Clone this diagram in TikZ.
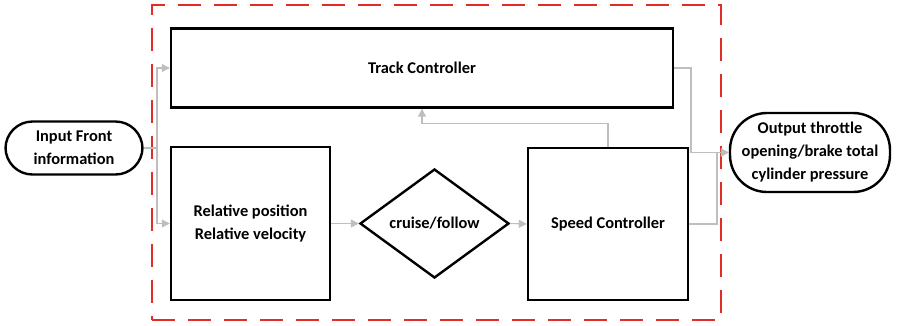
\documentclass[tikz,border=0pt]{standalone}
\usepackage{fontspec}
\setmainfont{Carlito}
\usetikzlibrary{arrows.meta,shapes.geometric}
\definecolor{conngray}{RGB}{190,190,190}
\definecolor{framered}{RGB}{225,45,40}
\begin{document}
\begin{tikzpicture}[x=1pt,y=-1pt,
  every node/.style={font=\fontsize{16.4}{23}\selectfont\bfseries, align=center, inner sep=0pt},
  blockbox/.style={draw=black, line width=2.4pt, rectangle},
  pill/.style={draw=black, line width=2.4pt, rectangle, rounded corners=#1},
  decision/.style={draw=black, line width=2.4pt, diamond, aspect=1.37},
  conn/.style={draw=conngray, line width=1.1pt},
  arr/.style={conn, -{Triangle[length=8pt,width=8pt,fill=conngray]}}
]
\useasboundingbox (0,0) rectangle (897,325);
\node[draw=framered, line width=2.6pt, dash pattern=on 23pt off 13pt, minimum width=569pt, minimum height=315pt] (frame) at (436.5,162.5) {};
\node[blockbox, minimum width=502pt, minimum height=79pt] (track) at (422,68) {Track Controller};
\node[blockbox, minimum width=159pt, minimum height=153pt] (rel) at (250.5,223.5) {Relative position\\Relative velocity};
\node[decision, minimum width=149pt, minimum height=109pt] (dia) at (434.5,223.5) {cruise/follow};
\node[blockbox, minimum width=160pt, minimum height=152pt] (spd) at (608,224) {Speed Controller};
\node[pill=27pt, minimum width=137pt, minimum height=53pt] (in) at (74,148) {Input Front\\information};
\node[pill=37pt, minimum width=160pt, minimum height=79pt] (out) at (810,152.5) {Output throttle\\opening/brake total\\cylinder pressure};
\coordinate (j) at (157,148);
\coordinate (tr) at (691,68);
\coordinate (sr) at (717,224);
\draw[conn] (in.east) -- (j);
\draw[arr] (j) |- (track.west);
\draw[arr] (j) |- (rel.west);
\draw[arr] (rel.east) -- (dia.west);
\draw[arr] (dia.east) -- (spd.west);
\draw[arr] (spd.north) -- ++(0,-23) -| (track.south);
\draw[arr] (track.east) -- (tr) |- (out.west);
\draw[arr] (spd.east) -- (sr) |- (out.west);
\end{tikzpicture}
\end{document}
